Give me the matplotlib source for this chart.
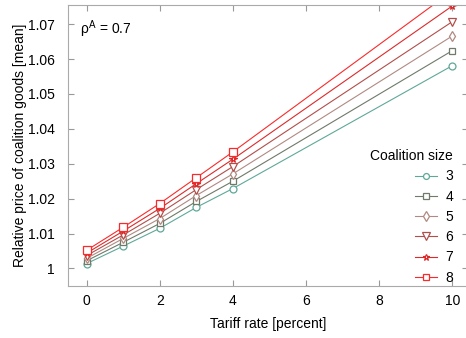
import matplotlib
matplotlib.use('Agg')
import matplotlib.pyplot as plt

plt.rcParams['font.family'] = ['Liberation Sans', 'DejaVu Sans']
plt.rcParams['mathtext.fontset'] = 'custom'
plt.rcParams['mathtext.rm'] = 'Liberation Sans'
plt.rcParams['mathtext.it'] = 'Liberation Sans'

# tariff rates (percent)
tariff = [0, 1, 2, 3, 4, 10]

# relative price of coalition goods for each coalition size
size3 = [1.0014, 1.0064, 1.0115, 1.0175, 1.0229, 1.0581]
size4 = [1.0022, 1.0075, 1.0129, 1.0192, 1.0250, 1.0624]
size5 = [1.0029, 1.0086, 1.0143, 1.0209, 1.0271, 1.0666]
size6 = [1.0037, 1.0096, 1.0158, 1.0226, 1.0292, 1.0707]
size7 = [1.0044, 1.0107, 1.0172, 1.0243, 1.0313, 1.0752]
size8 = [1.0052, 1.0118, 1.0186, 1.0260, 1.0334, 1.0795]

sizes = ['3', '4', '5', '6', '7', '8']
series = [size3, size4, size5, size6, size7, size8]
colors = ['#5fa898', '#6f7a6a', '#b08a82', '#b24e4a', '#dc2a2a', '#fa2a2a']
markers = ['o', 's', 'd', 'v', '*', 's']
msizes = [5, 4.8, 5.5, 6, 5.5, 5.5]

fig = plt.figure(figsize=(4.66, 3.38), dpi=100)
ax = fig.add_axes([0.1466, 0.154, 0.857, 0.8315])

for lab, y, c, m, ms in zip(sizes, series, colors, markers, msizes):
    ax.plot(tariff, y, color=c, marker=m, markersize=ms, markerfacecolor='white',
            markeredgecolor=c, linewidth=0.8, markeredgewidth=0.9, label=lab)

ax.set_xlim(-0.5, 10.42)
ax.set_ylim(0.995, 1.0755)
ax.set_xticks([0, 2, 4, 6, 8, 10])
ax.set_yticks([1, 1.01, 1.02, 1.03, 1.04, 1.05, 1.06, 1.07])
ax.set_yticklabels(['1', '1.01', '1.02', '1.03', '1.04', '1.05', '1.06', '1.07'])

ax.tick_params(direction='in', top=True, right=True, length=4, width=0.8,
               color='#999999', labelsize=10)
ax.tick_params(axis='x', pad=6)
ax.tick_params(axis='y', pad=9.5)
for s in ax.spines.values():
    s.set_color('#aaaaaa')
    s.set_linewidth(0.8)

ax.set_xlabel('Tariff rate [percent]', fontsize=10, labelpad=6)
ax.set_ylabel('Relative price of coalition goods [mean]', fontsize=10)
ax.yaxis.set_label_coords(-0.1034, 0.5)

ax.text(0.03, 0.915, r'$\rho^A$ = 0.7', transform=ax.transAxes, fontsize=10,
        va='center', ha='left')

leg = ax.legend(title='Coalition size', loc='lower right', frameon=False,
                fontsize=10, title_fontsize=10, handlelength=1.6,
                labelspacing=0.45, handletextpad=0.6, markerscale=0.85,
                bbox_to_anchor=(0.995, -0.04))
leg._legend_box.align = 'right'

fig.savefig('out.png', dpi=100)
